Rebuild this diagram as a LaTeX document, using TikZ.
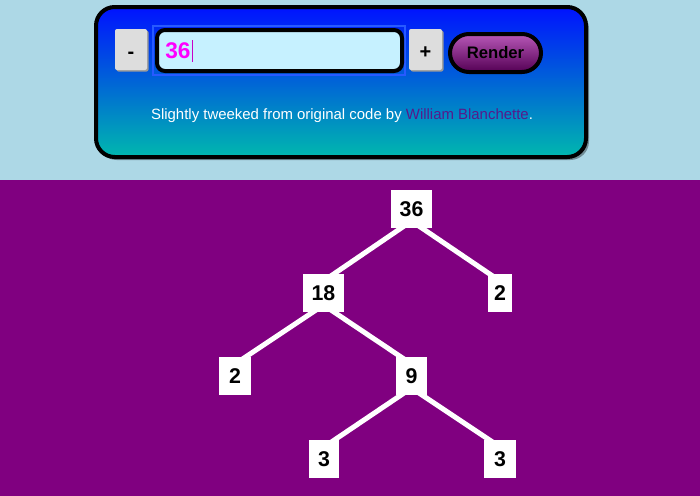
\documentclass[tikz,border=0pt]{standalone}
\usepackage{fontspec}
\setmainfont{Liberation Sans}
\pgfdeclarelayer{back}
\pgfdeclarelayer{bg}
\pgfsetlayers{back,bg,main}
\definecolor{skyback}{HTML}{ADD8E6}
\definecolor{purpleback}{HTML}{800080}
\definecolor{paneltop}{RGB}{0,18,255}
\definecolor{panelbot}{RGB}{0,184,174}
\definecolor{inputfill}{RGB}{198,241,255}
\definecolor{focusblue}{RGB}{40,90,255}
\definecolor{btngray}{HTML}{DDDDDD}
\definecolor{btnshadow}{HTML}{9A9A9A}
\definecolor{rendtop}{RGB}{184,88,184}
\definecolor{rendbot}{RGB}{84,0,84}
\definecolor{visited}{HTML}{551A8B}
\definecolor{pinkval}{RGB}{255,0,255}
\definecolor{caret}{RGB}{200,0,200}
\tikzset{
  x=0.75pt, y=-0.75pt,
  btn/.style={fill=btngray, rounded corners=1.5pt, minimum height=30.75pt,
    inner sep=0pt, text height=13pt, text depth=0pt, font=\fontsize{15}{18}\selectfont\bfseries},
  btnshade/.style={fill=btnshadow, rounded corners=1.5pt},
  inputbox/.style={draw=black, line width=3pt, fill=inputfill, rounded corners=6pt,
    minimum width=183.75pt, minimum height=30.75pt, inner sep=0pt},
  renderbtn/.style={draw=black, line width=3pt, top color=rendtop, bottom color=rendbot,
    rounded corners=14.25pt, minimum width=68.25pt, minimum height=28.5pt, inner sep=0pt,
    font=\fontsize{12.5}{14}\selectfont\bfseries},
  treebox/.style={fill=white, minimum height=28.5pt, inner xsep=6.5pt, inner ysep=0pt,
    font=\fontsize{16}{18}\selectfont\bfseries},
  edge/.style={draw=white, line width=3.75pt}
}
\begin{document}
\begin{tikzpicture}
\useasboundingbox (0,0) rectangle (700,496);
\begin{pgfonlayer}{back}
  \fill[skyback] (0,0) rectangle (700,180);
  \fill[purpleback] (0,180) rectangle (700,496);
  % panel shadow
  \fill[black, opacity=0.35, rounded corners=14pt] (98,10) rectangle (589,160);
  % panel
  \path[draw=black, line width=3pt, top color=paneltop, bottom color=panelbot, rounded corners=14pt]
    (96,7) rectangle (586,157);
  % focus outline of input
  \draw[focusblue, line width=0.9pt] (153,26) rectangle (405,75);
  % button shadows
  \fill[btnshade] (116.5,30.5) rectangle (148.5,71.5);
  \fill[btnshade] (410.5,30.5) rectangle (443.5,71.5);
\end{pgfonlayer}

% controls
\node[btn, minimum width=24pt] (minus) at (131,49.5) {-};
\node[inputbox] (input) at (279.5,50.5) {};
\node[anchor=west, inner sep=0pt, text=pinkval, font=\fontsize{17}{19}\selectfont\bfseries] (val) at (165,50.5) {36};
\draw[caret, line width=0.6pt] ([xshift=1pt]val.east |- 0,40) -- ([xshift=1pt]val.east |- 0,62);
\node[btn, minimum width=24.75pt] (plus) at (425.5,49.5) {+};
\node[renderbtn] (render) at (495.5,53) {Render};
\node[inner sep=0pt, font=\fontsize{11.2}{13}\selectfont] (credit) at (342,115.5)
  {\textcolor{white}{Slightly tweeked from original code by }\textcolor{visited}{William Blanchette}\textcolor{white}{.}};

% tree
\node[treebox] (n36) at (411.5,209) {36};
\node[treebox] (n18) at (323.5,293) {18};
\node[treebox, inner xsep=4.5pt] (n2r) at (500,293) {2};
\node[treebox, inner xsep=7.5pt] (n2l) at (235,376) {2};
\node[treebox, inner xsep=7.5pt] (n9) at (411.5,376) {9};
\node[treebox] (n3l) at (324,459) {3};
\node[treebox, inner xsep=7.5pt] (n3r) at (500,459) {3};

\begin{pgfonlayer}{bg}
  \draw[edge] ([yshift=-9pt]n36.center) -- ([yshift=9pt]n18.center);
  \draw[edge] ([yshift=-9pt]n36.center) -- ([yshift=9pt]n2r.center);
  \draw[edge] ([yshift=-9pt]n18.center) -- ([yshift=9pt]n2l.center);
  \draw[edge] ([yshift=-9pt]n18.center) -- ([yshift=9pt]n9.center);
  \draw[edge] ([yshift=-9pt]n9.center) -- ([yshift=9pt]n3l.center);
  \draw[edge] ([yshift=-9pt]n9.center) -- ([yshift=9pt]n3r.center);
\end{pgfonlayer}
\end{tikzpicture}
\end{document}
